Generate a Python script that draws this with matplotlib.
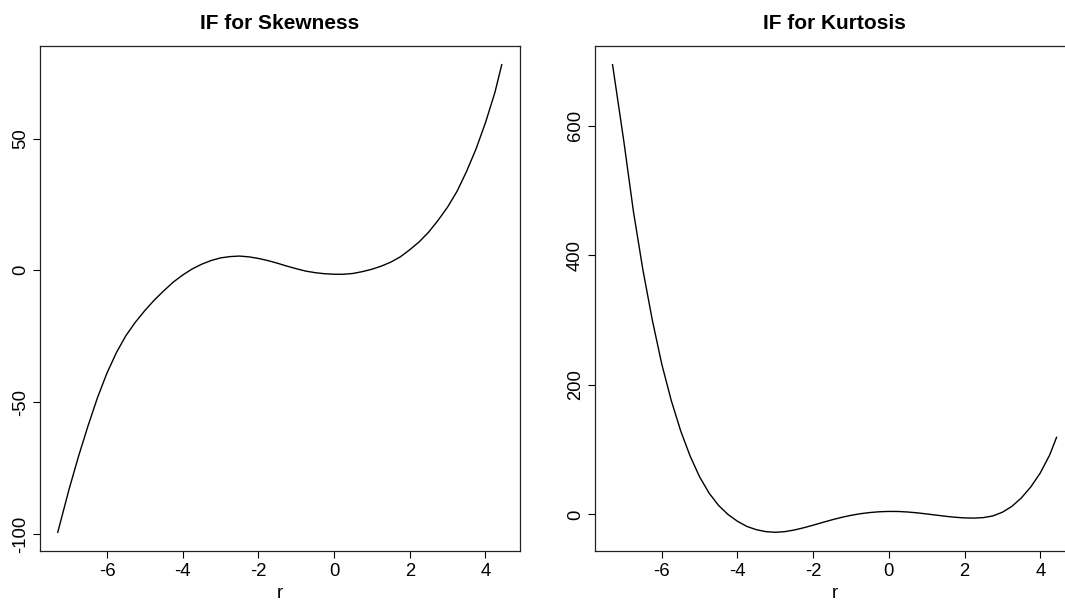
import matplotlib
matplotlib.use("Agg")
import matplotlib.pyplot as plt

plt.rcParams['font.family'] = ['Liberation Sans', 'DejaVu Sans']

# values
r_skew = [-7.3, -7.0, -6.75, -6.5, -6.25, -6.0, -5.75, -5.5, -5.25, -5.0, -4.75, -4.5,
          -4.25, -4.0, -3.75, -3.5, -3.25, -3.0, -2.75, -2.5, -2.25, -2.0, -1.75, -1.5,
          -1.25, -1.0, -0.75, -0.5, -0.25, 0.0, 0.25, 0.5, 0.75, 1.0, 1.25, 1.5, 1.75,
          2.0, 2.25, 2.5, 2.75, 3.0, 3.25, 3.5, 3.75, 4.0, 4.25, 4.43]
if_skew = [-99.4, -83, -70.5, -59, -48.3, -39.0, -31.2, -24.8, -19.7, -15.3, -11.3, -7.8,
           -4.5, -1.8, 0.5, 2.3, 3.7, 4.7, 5.2, 5.4, 5.1, 4.5, 3.7, 2.7,
           1.6, 0.6, -0.3, -0.9, -1.3, -1.5, -1.5, -1.2, -0.5, 0.4, 1.6, 3.1, 5.1,
           7.8, 10.8, 14.5, 19, 24, 30, 37.5, 46, 56, 67.5, 78]

r_kurt = [-7.3, -7.0, -6.75, -6.5, -6.25, -6.0, -5.75, -5.5, -5.25, -5.0, -4.75, -4.5,
          -4.25, -4.0, -3.75, -3.5, -3.25, -3.0, -2.75, -2.5, -2.25, -2.0, -1.75, -1.5,
          -1.25, -1.0, -0.75, -0.5, -0.25, 0.0, 0.25, 0.5, 0.75, 1.0, 1.25, 1.5, 1.75,
          2.0, 2.25, 2.5, 2.75, 3.0, 3.25, 3.5, 3.75, 4.0, 4.25, 4.43]
if_kurt = [694, 575, 468, 378, 300, 232, 176, 129, 90, 58, 33, 14,
           0, -10.5, -18.5, -23.5, -26.5, -27.5, -26.5, -24, -20.5, -16.5, -12.3, -8.2,
           -4.5, -1.3, 1.2, 3, 4.2, 4.7, 4.6, 3.8, 2.5, 0.8, -1.0, -2.8, -4.3,
           -5.3, -5.6, -4.8, -2.2, 3.5, 12.5, 25.5, 42.5, 64, 92, 119]

titles = ['IF for Skewness', 'IF for Kurtosis']
skew_yticks = [-100, -50, 0, 50]
kurt_yticks = [0, 200, 400, 600]
xticks = [-6, -4, -2, 0, 2, 4]

W, H = 1065, 601
fig = plt.figure(figsize=(W / 100, H / 100), dpi=100)


def r_lim(v):
    # R style 4% padding
    lo, hi = min(v), max(v)
    pad = (hi - lo) * 0.04
    return lo - pad, hi + pad


def panel(left_px, x, y, title, yticks):
    ax = fig.add_axes([left_px / W, 50 / H, 479.5 / W, 505 / H])
    ax.plot(x, y, color='black', lw=1.0)
    ax.set_xlim(*r_lim(x))
    ax.set_ylim(*r_lim(y))
    ax.set_xticks(xticks)
    ax.set_yticks(yticks)
    ax.set_xticklabels([str(t) for t in xticks])
    ax.set_yticklabels([str(t) for t in yticks], rotation=90, va='center')
    ax.tick_params(length=5.3, width=0.8, labelsize=13.3, color='black')
    ax.tick_params(axis='x', pad=3.0)
    ax.tick_params(axis='y', pad=2.6)
    for s in ax.spines.values():
        s.set_linewidth(0.9)
        s.set_color('#222222')
    ax.set_title(title, fontsize=15, fontweight='bold', pad=12)
    fig.text((left_px + 479.5 / 2) / W, 3 / H, 'r', ha='center', va='baseline',
             fontsize=13.3)
    return ax


panel(40, r_skew, if_skew, titles[0], skew_yticks)
panel(594.8, r_kurt, if_kurt, titles[1], kurt_yticks)

fig.savefig('out.png', dpi=100)
